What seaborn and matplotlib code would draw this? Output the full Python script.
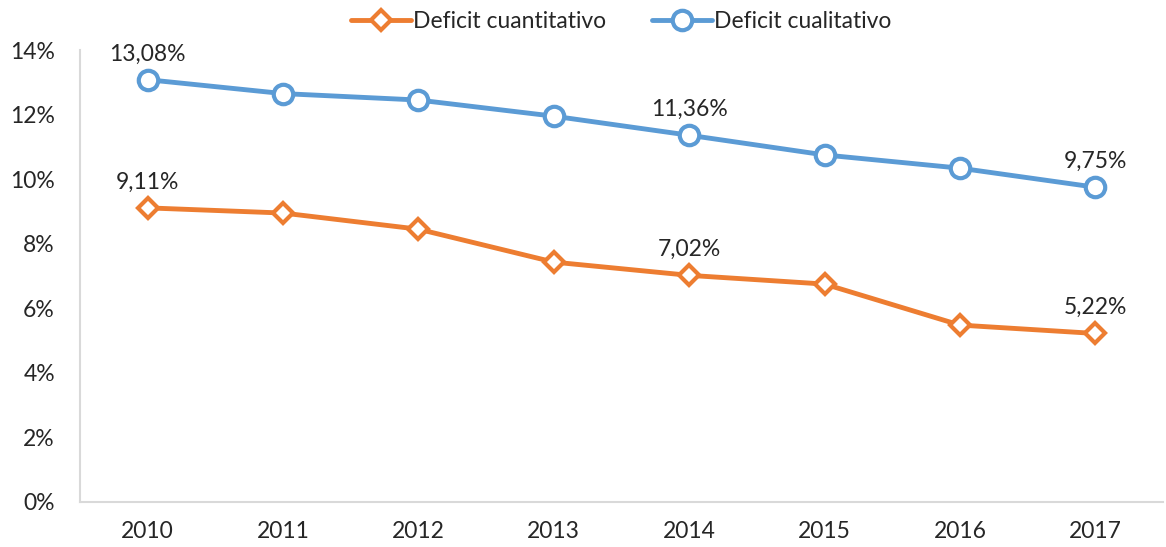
import numpy as np
import pandas as pd
import matplotlib
matplotlib.use("Agg")
import matplotlib.pyplot as plt
import seaborn as sns

years = ["2010", "2011", "2012", "2013", "2014", "2015", "2016", "2017"]
cuantitativo = [9.11, 8.95, 8.45, 7.43, 7.02, 6.75, 5.48, 5.22]
cualitativo = [13.08, 12.65, 12.45, 11.95, 11.36, 10.75, 10.34, 9.75]
label_years = ["2010", "2014", "2017"]

ORANGE = "#ED7D31"
BLUE = "#5B9BD5"

sns.set_theme(style="white")
plt.rcParams["font.family"] = ["Lato", "DejaVu Sans"]

df = pd.DataFrame({
    "year": years * 2,
    "value": cuantitativo + cualitativo,
    "serie": ["Deficit cuantitativo"] * len(years) + ["Deficit cualitativo"] * len(years),
})

fig = plt.figure(figsize=(11.66, 5.47), dpi=100)
ax = fig.add_axes([80 / 1166, 45 / 547, 1083 / 1166, 452 / 547])

series = [("Deficit cuantitativo", ORANGE, "D", 10), ("Deficit cualitativo", BLUE, "o", 14)]
for name, col, mk, ms in series:
    d = df[df["serie"] == name]
    sns.lineplot(data=d, x="year", y="value", ax=ax, color=col, linewidth=3.5,
                 marker=mk, markersize=ms, markerfacecolor="white",
                 markeredgecolor=col, markeredgewidth=3.0, label=name, sort=False)
    for yr, v in zip(d["year"], d["value"]):
        if yr in label_years:
            ax.annotate(f"{v:.2f}%".replace(".", ","), (years.index(yr), v),
                        xytext=(0, 11), textcoords="offset points",
                        ha="center", va="bottom", fontsize=16.5, color="#262626")

ax.set_xlim(-0.5, 7.5)
ax.set_ylim(0, 14)
ax.set_yticks(np.arange(0, 15, 2))
ax.set_yticklabels([f"{t}%" for t in range(0, 15, 2)])
ax.set_xlabel("")
ax.set_ylabel("")
ax.tick_params(axis="both", labelsize=16.5, colors="#262626", length=0)
ax.tick_params(axis="x", pad=14)
ax.tick_params(axis="y", pad=18)
for s in ["top", "right"]:
    ax.spines[s].set_visible(False)
for s in ["left", "bottom"]:
    ax.spines[s].set_color("#d9d9d9")
    ax.spines[s].set_linewidth(1.5)

ax.legend(loc="lower center", bbox_to_anchor=(0.5, 1.0), ncol=2, frameon=False,
          fontsize=16.5, handlelength=2.6, columnspacing=2.0, handletextpad=0.1,
          borderaxespad=0.4)

fig.savefig("out.png", dpi=100)
